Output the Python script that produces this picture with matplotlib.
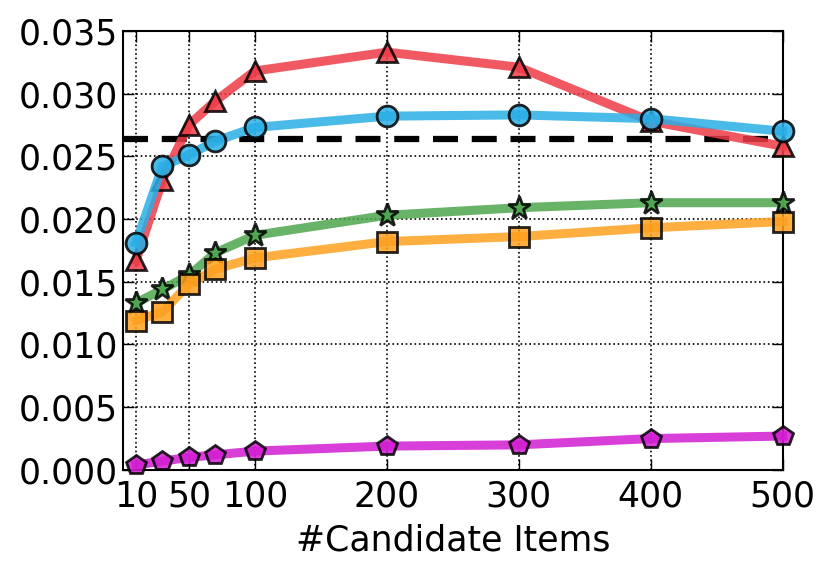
import matplotlib
matplotlib.use('Agg')
import matplotlib.pyplot as plt

candidates = [10, 30, 50, 70, 100, 200, 300, 400, 500]
red_vals = [0.0167, 0.0231, 0.0275, 0.0294, 0.0318, 0.0333, 0.0321, 0.0278, 0.0258]
blue_vals = [0.0181, 0.0242, 0.0251, 0.0262, 0.0273, 0.0282, 0.0283, 0.0280, 0.0270]
green_vals = [0.0133, 0.0144, 0.0155, 0.0173, 0.0187, 0.0203, 0.0209, 0.0213, 0.0213]
orange_vals = [0.0119, 0.0126, 0.0148, 0.0160, 0.0169, 0.0182, 0.0186, 0.0193, 0.0198]
magenta_vals = [0.0004, 0.0007, 0.0010, 0.0012, 0.0015, 0.0019, 0.0020, 0.0025, 0.0027]
baseline = 0.0264

xticks = [10, 50, 100, 200, 300, 400, 500]
yticks = [0.000, 0.005, 0.010, 0.015, 0.020, 0.025, 0.030, 0.035]

fig = plt.figure(figsize=(8.3, 5.71), dpi=100)
ax = fig.add_axes([0.148, 0.177, 0.795, 0.769])

ax.axhline(baseline, color='black', linestyle='--', linewidth=4.5, dashes=(4, 2.2), zorder=2)

series = [
    (red_vals, '#EE3B47', '^', 15),
    (blue_vals, '#2AAEE6', 'o', 15),
    (green_vals, '#4EA64E', '*', 17),
    (orange_vals, '#FFA01E', 's', 14),
    (magenta_vals, '#D21DD2', 'p', 15),
]
for vals, col, mk, ms in series:
    ax.plot(candidates, vals, color=col, linewidth=6.5, marker=mk, markersize=ms,
            markeredgecolor='black', markeredgewidth=2, alpha=0.85, zorder=3,
            clip_on=False)

ax.set_xlim(0, 500)
ax.set_ylim(0, 0.035)
ax.set_xticks(xticks)
ax.set_yticks(yticks)
ax.set_yticklabels(['%.3f' % v for v in yticks])
ax.tick_params(labelsize=25, direction='in', top=True, right=True, length=8, width=1)
ax.tick_params(axis='x', pad=7)
ax.grid(True, color='black', linestyle=':', linewidth=1.2)
ax.set_xlabel('#Candidate Items', fontsize=25, labelpad=7)
for s in ax.spines.values():
    s.set_linewidth(1.5)

fig.savefig('out.png', dpi=100)
